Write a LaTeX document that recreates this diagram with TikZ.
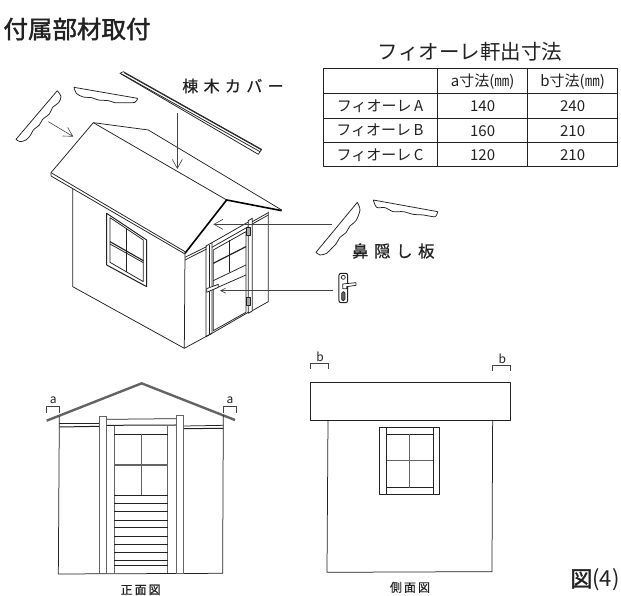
\documentclass[tikz,border=0pt]{standalone}
\usepackage{fontspec}
\setmainfont{Noto Sans CJK JP}
\newfontfamily\medf[FakeBold=1.6]{Noto Sans CJK JP}
\newfontfamily\semif[FakeBold=0.5]{Noto Sans CJK JP}
\usetikzlibrary{arrows.meta}
\definecolor{ink}{HTML}{222222}
\tikzset{
  ln/.style={draw=ink,line width=0.75pt,line join=round},
  thin ln/.style={draw=ink!85,line width=0.55pt},
  thick ln/.style={draw=black,line width=1.6pt,line join=round},
  grayln/.style={draw=ink!70,line width=0.95pt},
  callout/.style={draw=ink!85,line width=0.6pt,-{Straight Barb[length=9pt,width=10pt]}},
  txt/.style={inner sep=0pt,text=ink},
  z1/.style={shift={(0,50)},x=0.3333pt,y=-0.3333pt},
  z2/.style={shift={(200,170)},x=0.3333pt,y=-0.3333pt},
  z3/.style={shift={(20,370)},x=0.3333pt,y=-0.3333pt},
  z4/.style={shift={(290,340)},x=0.3333pt,y=-0.3333pt},
  z5/.style={shift={(320,30)},x=0.3333pt,y=-0.3333pt},
}
\begin{document}
\begin{tikzpicture}[x=1pt,y=-1pt]
\useasboundingbox (0,0) rectangle (621,596);
\fill[white] (0,0) rectangle (621,596);
% titles
\node[txt,font=\medf\fontsize{24.5}{24.5}\selectfont] (title) at (77,29) {付属部材取付};
\node[txt,font=\fontsize{20.5}{20.5}\selectfont] (tabletitle) at (470,52) {フィオーレ軒出寸法};
% table
\begin{scope}[z5]
\draw[ln,line width=1.1pt] (10,115) rectangle (893,410);
\foreach \y in {190,265,338} \draw[ln,line width=1pt] (10,\y) -- (893,\y);
\foreach \x in {352,623} \draw[ln,line width=1pt] (\x,115) -- (\x,410);
\tikzset{cell/.style={txt,font=\fontsize{15}{15}\selectfont}}
\node[cell] (h1) at (488,155) {a寸法(㎜)};
\node[cell] (h2) at (758,155) {b寸法(㎜)};
\node[cell] (r1) at (180,228) {フィオーレ\,A};
\node[cell] (r2) at (180,302) {フィオーレ\,B};
\node[cell] (r3) at (180,375) {フィオーレ\,C};
\node[cell] (a1) at (488,228) {140};
\node[cell] (a2) at (488,302) {160};
\node[cell] (a3) at (488,375) {120};
\node[cell] (b1) at (758,228) {240};
\node[cell] (b2) at (758,302) {210};
\node[cell] (b3) at (758,375) {210};
\end{scope}
% isometric shed
\begin{scope}[z1]
% ridge cover
\draw[ln] (360,70) -- (370,65) -- (785,298) -- (775,313) -- cycle;
\draw[ln] (365,72) -- (780,305);
\draw[ln] (372,68) -- (785,300);
% fascia pieces
\draw[ln] (172,122) -- (48,268) plot[smooth] coordinates {(48,268)(60,275)(78,270)(92,255)(100,240)(118,225)(128,208)(148,192)(158,172)(176,158)(183,140)(172,122)};
\draw[ln] (222,112) -- (413,145) plot[smooth] coordinates {(413,145)(405,157)(375,158)(345,158)(325,152)(295,150)(275,143)(250,141)(230,131)(222,112)};
% roof
\draw[ln] (153,368) -- (280,218) -- (680,450);
\draw[ln] (280,218) -- (445,240) -- (845,480);
\draw[ln] (153,368) -- (555,605);
\draw[ln] (153,368) -- (153,378) -- (555,612);
\draw[thick ln] (555,610) -- (680,450) -- (845,482);
% walls
\draw[ln] (218,415) -- (218,710) -- (553,895) -- (555,612);
\draw[ln] (553,895) -- (636,850);
\draw[ln] (757,782) -- (805,755) -- (805,485);
\draw[ln] (555,622) -- (620,590);
\draw[ln] (555,630) -- (620,597);
\draw[ln] (757,515) -- (805,488);
\draw[ln] (757,522) -- (805,495);
% window
\draw[ln,line width=1pt] (320,490) -- (440,570) -- (440,710) -- (320,645) -- cycle;
\draw[ln] (330,503) -- (430,570) -- (430,695) -- (330,637) -- cycle;
\draw[ln,line width=1.1pt] (330,575) -- (430,632);
\draw[ln] (330,582) -- (430,638);
\draw[ln,line width=1.1pt] (380,535) -- (380,665);
% door posts
\draw[ln] (618,588) -- (618,860) -- (636,850) -- (636,578) -- cycle;
\draw[ln] (628,584) -- (628,855);
\draw[ln] (745,512) -- (745,790) -- (757,783) -- (757,505) -- cycle;
% door
\draw[ln] (636,578) -- (745,516);
\draw[ln] (636,592) -- (745,530);
\draw[ln] (640,600) -- (640,842) -- (738,787) -- (738,545) -- cycle;
\draw[ln] (636,850) -- (745,787);
\draw[ln,line width=1.2pt] (640,640) -- (738,590);
\draw[ln,line width=1.2pt] (688,570) -- (688,665);
\draw[ln] (640,692) -- (738,645);
\draw[ln] (640,718) -- (738,675);
% handle on door
\draw[ln,fill=white] (620,716) -- (655,703) -- (655,712) -- (620,727) -- cycle;
% hinges
\draw[ln,line width=1pt,fill=ink!40] (739,533) rectangle (751,558);
\draw[ln,line width=1pt,fill=ink!40] (739,742) rectangle (751,767);
\coordinate (coverstart) at (532,190);
\coordinate (coverend) at (532,357);
\coordinate (piecestart) at (145,215);
\coordinate (pieceend) at (220,260);
\draw[callout] (coverstart) -- (coverend);
\draw[callout] (piecestart) -- (pieceend);
\node[txt,font=\semif\fontsize{16}{16}\selectfont] (covertext) at (699,108) {棟\,\,木\,\,カ\,\,バ\,\,ー};
\end{scope}
% right pieces
\begin{scope}[z2]
\draw[ln] (472,97) -- (348,247) plot[smooth] coordinates {(348,247)(360,255)(380,250)(395,235)(408,222)(420,202)(438,188)(450,168)(468,152)(480,120)(472,97)};
\draw[ln] (520,90) -- (713,125) plot[smooth] coordinates {(713,125)(705,140)(670,135)(640,133)(610,125)(580,125)(555,113)(530,112)(520,90)};
\coordinate (fasciastart) at (395,163);
\coordinate (fasciaend) at (40,163);
\coordinate (handlestart) at (400,362);
\coordinate (handleend) at (60,362);
\draw[callout] (fasciastart) -- (fasciaend);
\draw[callout,-{Straight Barb[length=5pt,width=5pt]}] (handlestart) -- (handleend);
\node[txt,font=\semif\fontsize{16.5}{16.5}\selectfont] (fasciatext) at (580,243) {鼻\,\,隠\,\,し\,\,板};
% lever handle
\draw[ln,line width=1pt,fill=white,rounded corners=2pt] (417,310) rectangle (443,398);
\draw[ln,fill=white] (430,322) circle [radius=2pt];
\draw[ln,fill=ink!70,rounded corners=1.5pt] (425,365) rectangle (435,392);
\draw[ln,fill=white] (428,342) -- (468,338) -- (468,346) -- (440,350) -- (440,356) -- (428,356) -- cycle;
\end{scope}
% front view
\begin{scope}[z3]
\draw[grayln,line width=2.4pt] (80,152) -- (365,40) -- (645,150);
\draw[ln] (118,138) -- (115,612) -- (608,610) -- (610,135);
\draw[ln] (118,160) -- (238,160);
\draw[ln,line width=1pt] (118,171) -- (238,169);
\draw[ln] (490,168) -- (610,166);
\draw[ln,line width=1pt] (490,176) -- (610,175);
\draw[grayln,fill=white] (238,138) rectangle (260,610);
\draw[grayln,fill=white] (468,136) rectangle (490,610);
\draw[ln] (260,148) -- (468,146);
\draw[ln,line width=1pt] (260,166) -- (468,165);
\draw[grayln] (283,168) -- (283,610);
\draw[grayln] (443,168) -- (443,610);
\draw[ln] (283,192) -- (443,192);
\draw[grayln,line width=1.3pt] (365,192) -- (365,375);
\draw[grayln,line width=1.5pt] (283,285) -- (443,285);
\draw[ln] (283,375) -- (443,375);
\foreach \y in {400,425,450,473,498,522,547,570,587}
  \draw[ln] (283,\y) -- (443,\y);
\draw[thin ln] (80,128) -- (80,110) -- (118,110) -- (118,128);
\draw[thin ln] (610,128) -- (610,110) -- (648,110) -- (648,128);
\node[txt,font=\fontsize{12}{12}\selectfont] (alabel1) at (100,90) {a};
\node[txt,font=\fontsize{12}{12}\selectfont] (alabel2) at (630,90) {a};
\node[txt,font=\semif\fontsize{12}{12}\selectfont] (fronttext) at (362,660) {正\,面\,図};
\end{scope}
% side view
\begin{scope}[z4]
\draw[ln] (62,127) rectangle (660,240);
\draw[ln] (114,240) -- (111,697) -- (606,695) -- (608,240);
\draw[ln,line width=1pt] (268,262) rectangle (450,463);
\draw[ln,line width=1pt] (290,262) -- (290,463);
\draw[ln,line width=1pt] (430,262) -- (430,463);
\draw[ln] (290,282) -- (430,282);
\draw[ln] (290,443) -- (430,443);
\draw[grayln,line width=1.4pt] (358,282) -- (358,443);
\draw[grayln,line width=1.6pt] (290,362) -- (430,362);
\draw[thin ln] (62,87) -- (62,70) -- (116,70) -- (116,87);
\draw[thin ln] (607,92) -- (607,75) -- (662,75) -- (662,92);
\node[txt,font=\fontsize{12}{12}\selectfont] (blabel1) at (90,50) {b};
\node[txt,font=\fontsize{12}{12}\selectfont] (blabel2) at (637,55) {b};
\node[txt,font=\semif\fontsize{12}{12}\selectfont] (sidetext) at (360,742) {側\,面\,図};
\node[txt,font=\fontsize{22}{22}\selectfont] (figlabel) at (915,720) {{\medf 図}(4)};
\end{scope}
\end{tikzpicture}
\end{document}
